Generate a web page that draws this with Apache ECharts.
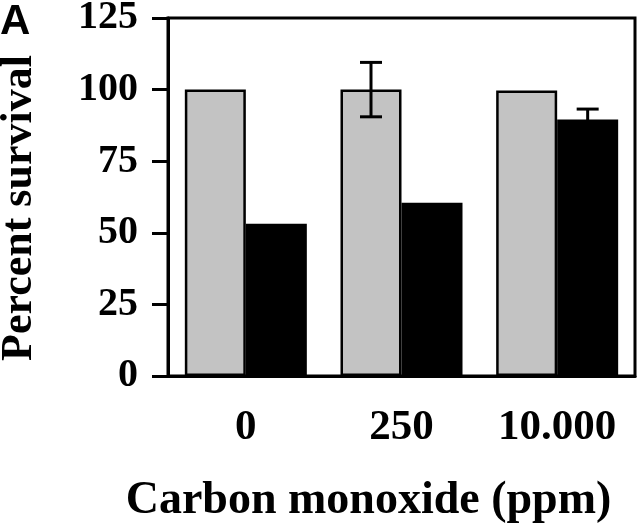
<!DOCTYPE html>
<html>
<head>
<meta charset="utf-8">
<script src="https://cdn.jsdelivr.net/npm/echarts@6/dist/echarts.min.js"></script>
<style>html,body{margin:0;padding:0;background:#fff;}#c{width:640px;height:525px;}</style>
</head>
<body>
<div id="c"></div>
<script>
var categories = ['0', '250', '10.000'];
var controlValues = [100, 100, 99.7];
var coValues = [53.2, 60.5, 89.6];
var controlErrors = [0, 9.5, 0];
var coErrors = [0, 0, 3.6];
var yTicks = [0, 25, 50, 75, 100, 125];

var SERIF = '"Liberation Serif","Times New Roman",serif';
var BAR_W = 61;

var chart = echarts.init(document.getElementById('c'), null, {renderer: 'canvas'});

var errData = [];
categories.forEach(function (c, i) {
  if (controlErrors[i] > 0) errData.push([i, controlValues[i], controlErrors[i], 0]);
  if (coErrors[i] > 0) errData.push([i, coValues[i], coErrors[i], 1]);
});

chart.setOption({
  animation: false,
  grid: {left: 168, right: 5, top: 18, bottom: 149, containLabel: false, outerBoundsMode: 'none',
    show: true, borderColor: '#000', borderWidth: 3, backgroundColor: 'transparent'},
  graphic: [{
    type: 'text', left: 0, top: 1,
    style: {text: 'A', font: 'bold 42px "Liberation Sans", Arial, sans-serif', fill: '#000'}
  }],
  xAxis: {
    type: 'category',
    data: categories,
    name: 'Carbon monoxide (ppm)',
    nameLocation: 'middle',
    nameGap: 102,
    nameTextStyle: {fontFamily: SERIF, fontWeight: 'bold', fontSize: 46, color: '#000', padding: [0, 66, 0, 0]},
    axisLine: {lineStyle: {color: '#000', width: 3}},
    axisTick: {alignWithLabel: true, length: 17, lineStyle: {color: '#000', width: 3}},
    axisLabel: {interval: 0, hideOverlap: false, fontFamily: SERIF, fontWeight: 'bold', fontSize: 43, color: '#000', margin: 30},
    splitLine: {show: false}
  },
  yAxis: {
    type: 'value',
    min: yTicks[0], max: yTicks[yTicks.length - 1], interval: 25,
    name: 'Percent survival',
    nameLocation: 'middle',
    nameRotate: 90,
    nameGap: 126,
    nameTextStyle: {fontFamily: SERIF, fontWeight: 'bold', fontSize: 44, color: '#000', padding: [0, 22, 0, 0]},
    axisLine: {show: true, lineStyle: {color: '#000', width: 3}},
    axisTick: {show: true, length: 16, lineStyle: {color: '#000', width: 3}},
    axisLabel: {hideOverlap: false, fontFamily: SERIF, fontWeight: 'bold', fontSize: 40, color: '#000', margin: 30},
    splitLine: {show: false}
  },
  series: [{
    type: 'bar',
    data: controlValues,
    barWidth: BAR_W,
    barGap: '0%',
    itemStyle: {color: '#c3c3c3', borderColor: '#000', borderWidth: 2.5}
  }, {
    type: 'bar',
    data: coValues,
    barWidth: BAR_W,
    barGap: '0%',
    itemStyle: {color: '#000', borderColor: '#000', borderWidth: 0}
  }, {
    type: 'custom',
    z: 10,
    data: errData,
    renderItem: function (params, api) {
      var i = api.value(0), v = api.value(1), e = api.value(2), s = api.value(3);
      var off = (s === 0 ? -1 : 1) * BAR_W / 2;
      var hi = api.coord([i, v + e]);
      var lo = api.coord([i, v - e]);
      var x = hi[0] + off;
      var cw = 11;
      var st = {stroke: '#000', lineWidth: 3};
      return {type: 'group', children: [
        {type: 'line', shape: {x1: x, y1: hi[1], x2: x, y2: lo[1]}, style: st},
        {type: 'line', shape: {x1: x - cw, y1: hi[1], x2: x + cw, y2: hi[1]}, style: st},
        {type: 'line', shape: {x1: x - cw, y1: lo[1], x2: x + cw, y2: lo[1]}, style: st}
      ]};
    }
  }]
});
</script>
</body>
</html>
